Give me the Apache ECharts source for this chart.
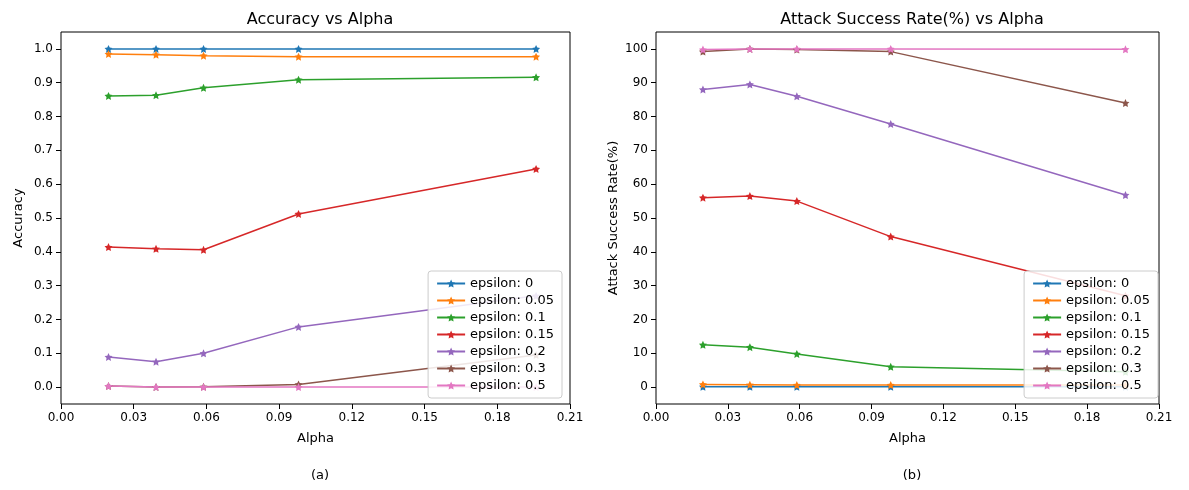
<!DOCTYPE html>
<html>
<head>
<meta charset="utf-8">
<script src="https://cdn.jsdelivr.net/npm/echarts@6/dist/echarts.min.js"></script>
<style>body{margin:0;background:#fff}#chart{width:1189px;height:490px}</style>
</head>
<body>
<div id="chart"></div>
<script>
// alpha values (x)
const alphas = [0.0196, 0.0392, 0.0588, 0.098, 0.196];
const epsNames = ['epsilon: 0', 'epsilon: 0.05', 'epsilon: 0.1', 'epsilon: 0.15', 'epsilon: 0.2', 'epsilon: 0.3', 'epsilon: 0.5'];
const colors = ['#1f77b4', '#ff7f0e', '#2ca02c', '#d62728', '#9467bd', '#8c564b', '#e377c2'];

// accuracy per epsilon
const accuracy = [
    [1.0, 1.0, 1.0, 1.0, 1.0],
    [0.985, 0.983, 0.980, 0.977, 0.977],
    [0.861, 0.863, 0.885, 0.909, 0.916],
    [0.414, 0.409, 0.406, 0.512, 0.645],
    [0.089, 0.075, 0.100, 0.178, 0.27],
    [0.003, 0.0, 0.001, 0.008, 0.095],
    [0.003, 0.0, 0.0, 0.0, 0.0],
];
// attack success rate (%) per epsilon
const attackRate = [
    [0.1, 0.1, 0.1, 0.1, 0.1],
    [0.8, 0.7, 0.6, 0.6, 0.6],
    [12.5, 11.8, 9.8, 6.0, 4.5],
    [56.0, 56.5, 55.0, 44.5, 27.0],
    [88.0, 89.5, 86.0, 77.8, 56.8],
    [99.2, 100, 99.8, 99.2, 84.0],
    [99.8, 100, 100, 100, 99.9],
];

const star = 'path://M0,-10 L2.9,-4 9.5,-3.1 4.7,1.5 5.9,8.1 0,5 -5.9,8.1 -4.7,1.5 -9.5,-3.1 -2.9,-4Z';
const font = 'DejaVu Sans';
// plot frame is 372px tall, data 0..max fills 1/1.1 of it
const pad = 372 * 0.05 / 1.1;

function makeSeries(data, idx) {
    return data.map((vals, i) => ({
        name: epsNames[i],
        type: 'line',
        xAxisIndex: idx,
        yAxisIndex: idx,
        data: vals.map((v, j) => [alphas[j], v]),
        symbol: star,
        symbolSize: 8,
        color: colors[i],
        lineStyle: { width: 1.5 },
        clip: false,
        animation: false,
    }));
}

function xAxis(idx) {
    return {
        type: 'value', gridIndex: idx, min: 0, max: 0.21, interval: 0.03, offset: pad,
        name: 'Alpha', nameLocation: 'middle', nameGap: 28,
        nameTextStyle: { fontFamily: font, fontSize: 13, color: '#000' },
        axisLine: { show: false, onZero: false },
        axisTick: { lineStyle: { color: '#000' } },
        axisLabel: { fontFamily: font, fontSize: 12, color: '#000', formatter: v => v.toFixed(2) },
        splitLine: { show: false },
    };
}

function yAxis(idx, max, interval, name, fmt) {
    return {
        type: 'value', gridIndex: idx, min: 0, max: max, interval: interval,
        name: name, nameLocation: 'middle', nameGap: 36,
        nameTextStyle: { fontFamily: font, fontSize: 13, color: '#000' },
        axisLine: { show: false },
        axisTick: { show: true, lineStyle: { color: '#000' } },
        axisLabel: { fontFamily: font, fontSize: 12, color: '#000', formatter: fmt },
        splitLine: { show: false },
    };
}

function frameAxis(idx) {
    return { type: 'value', gridIndex: idx, show: false, min: 0, max: 1 };
}

function legend(right) {
    return {
        data: epsNames, orient: 'vertical', right: right, bottom: 92,
        itemGap: 4, itemWidth: 28, itemHeight: 10,
        padding: [6, 8], borderColor: '#ccc', borderWidth: 1, borderRadius: 3,
        backgroundColor: 'rgba(255,255,255,0.85)',
        textStyle: { fontFamily: font, fontSize: 13, color: '#000' },
        selectedMode: false,
    };
}

const myChart = echarts.init(document.getElementById('chart'));
const option = {
    backgroundColor: '#fff',
    title: [
        { text: 'Accuracy vs Alpha', left: 315, top: 7, textAlign: 'center', textStyle: { fontFamily: font, fontSize: 16, fontWeight: 'normal', color: '#000' } },
        { text: 'Attack Success Rate(%) vs Alpha', left: 907, top: 7, textAlign: 'center', textStyle: { fontFamily: font, fontSize: 16, fontWeight: 'normal', color: '#000' } },
        { text: '(a)', left: 315, top: 464, textAlign: 'center', textStyle: { fontFamily: font, fontSize: 13, fontWeight: 'normal', color: '#000' } },
        { text: '(b)', left: 907, top: 464, textAlign: 'center', textStyle: { fontFamily: font, fontSize: 13, fontWeight: 'normal', color: '#000' } },
    ],
    legend: [legend(627), legend(31)],
    grid: [
        { left: 61, right: 619, top: 32 + pad, bottom: 86 + pad },
        { left: 656, right: 30, top: 32 + pad, bottom: 86 + pad },
        { left: 61, right: 619, top: 32, bottom: 86, show: true, borderColor: '#000', borderWidth: 1 },
        { left: 656, right: 30, top: 32, bottom: 86, show: true, borderColor: '#000', borderWidth: 1 },
    ],
    xAxis: [xAxis(0), xAxis(1), frameAxis(2), frameAxis(3)],
    yAxis: [
        yAxis(0, 1, 0.1, 'Accuracy', v => v.toFixed(1)),
        yAxis(1, 100, 10, 'Attack Success Rate(%)', v => String(Math.round(v))),
        frameAxis(2), frameAxis(3),
    ],
    series: makeSeries(accuracy, 0).concat(makeSeries(attackRate, 1)),
};
option && myChart.setOption(option);
</script>
</body>
</html>
